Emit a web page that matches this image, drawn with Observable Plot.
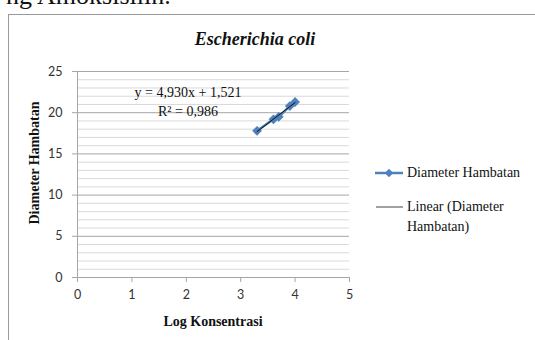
<!DOCTYPE html>
<html>
<head>
<meta charset="utf-8">
<script src="https://cdn.jsdelivr.net/npm/d3@7"></script>
<script src="https://cdn.jsdelivr.net/npm/@observablehq/plot@0.6"></script>
<style>
  html, body { margin: 0; padding: 0; background: #fff; }
  #wrap { position: relative; width: 535px; height: 340px; overflow: hidden; background: #fff; }
  .abs { position: absolute; white-space: nowrap; line-height: 1; color: #111; }
  .serif { font-family: "Liberation Serif", "Times New Roman", serif; }
  #box { position: absolute; left: 8px; top: 14px; width: 600px; height: 400px;
         border-left: 1.5px solid #9a9a9a; border-top: 1.5px solid #9a9a9a; }
  #plot { position: absolute; left: 0; top: 0; }
</style>
</head>
<body>
<div id="wrap">
  <div class="abs serif" style="left:6px; top:-17px; font-size:26px;">ng Amoksisilin.</div>
  <div id="box"></div>
  <div id="plot"></div>
  <div class="abs serif" style="left:255px; top:39px; transform:translate(-50%,-50%); font-size:18px; font-style:italic; font-weight:bold;">Escherichia coli</div>
  <div class="abs serif" style="left:188px; top:93px; transform:translate(-50%,-50%); font-size:14px;">y = 4,930x + 1,521</div>
  <div class="abs serif" style="left:188px; top:112px; transform:translate(-50%,-50%); font-size:14px;">R² = 0,986</div>
  <div class="abs serif" style="left:213px; top:322px; transform:translate(-50%,-50%); font-size:14px; font-weight:bold;">Log Konsentrasi</div>
  <div class="abs serif" style="left:35px; top:163px; transform:translate(-50%,-50%) rotate(-90deg); font-size:14px; font-weight:bold;">Diameter Hambatan</div>
  <svg class="abs" style="left:370px; top:160px;" width="40" height="60">
    <line x1="5" x2="33" y1="13" y2="13" stroke="#4f81bd" stroke-width="2.5"/>
    <rect x="16" y="10" width="6" height="6" fill="#4f81bd" transform="rotate(45 19 13)"/>
    <line x1="6" x2="33" y1="47" y2="47" stroke="#444" stroke-width="1"/>
  </svg>
  <div class="abs serif" style="left:407px; top:173px; transform:translate(0,-50%); font-size:14px;">Diameter Hambatan</div>
  <div class="abs serif" style="left:407px; top:197px; font-size:14px; line-height:20px;">Linear (Diameter<br>Hambatan)</div>
</div>
<script>
// Data
const logKonsentrasi = [3.301, 3.602, 3.699, 3.903, 4.0];
const diameterHambatan = [17.8, 19.2, 19.5, 20.8, 21.3];
const xTicks = [0, 1, 2, 3, 4, 5];
const yTicks = [0, 5, 10, 15, 20, 25];
const yMinor = [1,2,3,4,6,7,8,9,11,12,13,14,16,17,18,19,21,22,23,24];

const data = logKonsentrasi.map((x, i) => ({x, y: diameterHambatan[i]}));

const chart = Plot.plot({
  width: 535,
  height: 340,
  marginLeft: 77,
  marginRight: 186,
  marginTop: 71,
  marginBottom: 63,
  x: {domain: [0, 5]},
  y: {domain: [0, 25]},
  style: {background: "transparent", fontFamily: "Lato, 'Open Sans', sans-serif", fontSize: "12.5px", color: "#333"},
  marks: [
    Plot.ruleY(yMinor, {stroke: "#d9d9d9", strokeWidth: 1}),
    Plot.ruleY(yTicks, {stroke: "#a6a6a6", strokeWidth: 1}),
    Plot.ruleX([0], {stroke: "#a6a6a6", strokeWidth: 1}),
    Plot.axisY({ticks: yTicks, tickSize: 5, tickPadding: 10, tickFormat: d => String(d), label: null, stroke: "#a6a6a6"}),
    Plot.axisX({ticks: xTicks, tickSize: 5, tickPadding: 8, tickFormat: d => String(d), label: null, stroke: "#a6a6a6"}),
    Plot.line(data, {x: "x", y: "y", stroke: "#4f81bd", strokeWidth: 2.5}),
    Plot.dot(data, {x: "x", y: "y", symbol: "square", rotate: 45, r: 3.9, fill: "#4f81bd", stroke: "none"}),
    Plot.linearRegressionY(data, {x: "x", y: "y", stroke: "#111", strokeWidth: 1, ci: 0})
  ]
});
document.getElementById("plot").appendChild(chart);
</script>
</body>
</html>
